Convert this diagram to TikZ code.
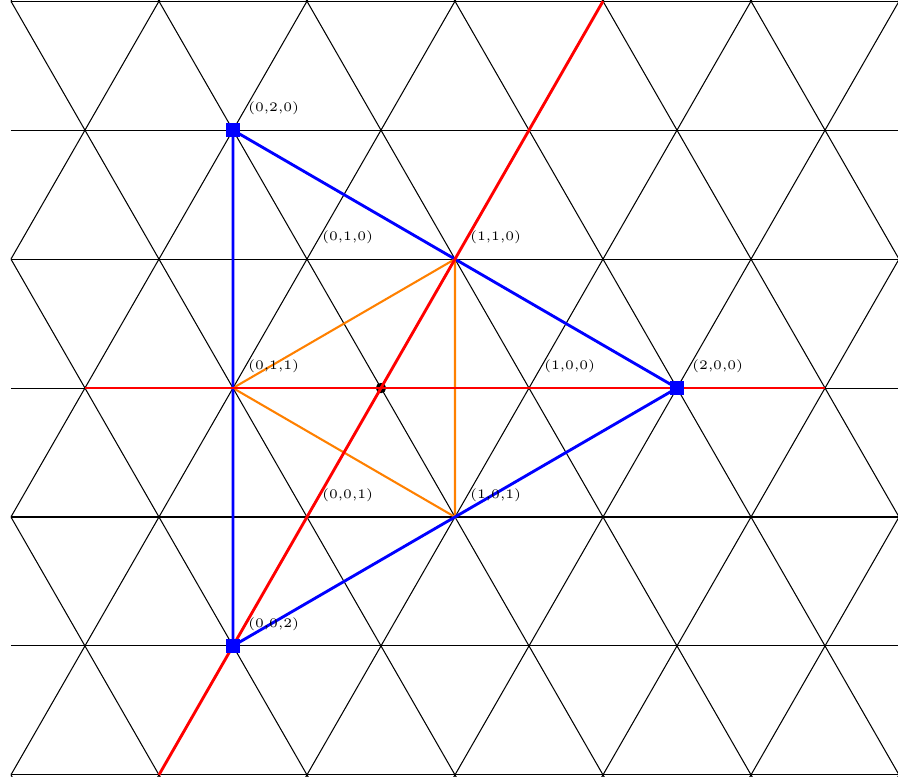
\documentclass[tikz,border=0pt]{standalone}
\usepackage{amsmath,amssymb}
\usepackage{tikz}

\begin{document}
\begin{tikzpicture}[x=2cm, y=2.012cm, every node/.style={font=\tiny},
	lattice/.style={black, line width=0.4pt},
	tri/.style={blue, line width=1.1pt},
	axis/.style={red, line width=1.1pt},
	mid/.style={orange, line width=0.8pt},
	vtx/.style={fill=blue, inner sep=0pt, minimum size=5.4pt},
	lbl/.style={above right=4pt, inner sep=1.6pt}]
	\useasboundingbox (-2.574,-2.619) rectangle (3.493,2.606);
	\def\h{0.8660}
	% triangular lattice
	\begin{scope}
		\clip (-2.5,-2.61) rectangle (3.5,2.61);
		\foreach \k in {-3,...,3}
			\draw[lattice] (-2.5,\k*\h) -- (3.5,\k*\h);
		\foreach \n in {-4,...,5} {
			\draw[lattice] (\n-1.6,-3.2*\h) -- (\n+1.6,3.2*\h);
			\draw[lattice] (\n+1.6,-3.2*\h) -- (\n-1.6,3.2*\h);
		}
	\end{scope}
	% points
	\coordinate (O) at (0,0);
	\coordinate (A) at (2,0);
	\coordinate (B) at (-1,2*\h);
	\coordinate (C) at (-1,-2*\h);
	\coordinate (AB) at (0.5,\h);
	\coordinate (BC) at (-1,0);
	\coordinate (AC) at (0.5,-\h);
	\coordinate (a) at (1,0);
	\coordinate (b) at (-0.5,\h);
	\coordinate (c) at (-0.5,-\h);
	\coordinate (xl) at (-2,0);
	\coordinate (xr) at (3,0);
	\coordinate (yl) at (-1.5,-3*\h);
	\coordinate (yr) at (1.5,3*\h);
	\fill (O) circle (2pt);
	\draw[mid] (BC) -- (AB) -- (AC) -- cycle;
	\draw[tri] (A) -- (B) -- (C) -- cycle;
	\draw[axis] (xl) -- (xr);
	\draw[axis] (yl) -- (yr);
	\node[vtx] (sA) at (A) {};
	\node[vtx] (sB) at (B) {};
	\node[vtx] (sC) at (C) {};
	\node[lbl] (lA) at (A) {(2,0,0)};
	\node[lbl] (lB) at (B) {(0,2,0)};
	\node[lbl] (lC) at (C) {(0,0,2)};
	\node[lbl] (lAB) at (AB) {(1,1,0)};
	\node[lbl] (lBC) at (BC) {(0,1,1)};
	\node[lbl] (lAC) at (AC) {(1,0,1)};
	\node[lbl] (la) at (a) {(1,0,0)};
	\node[lbl] (lb) at (b) {(0,1,0)};
	\node[lbl] (lc) at (c) {(0,0,1)};
\end{tikzpicture}
\end{document}
